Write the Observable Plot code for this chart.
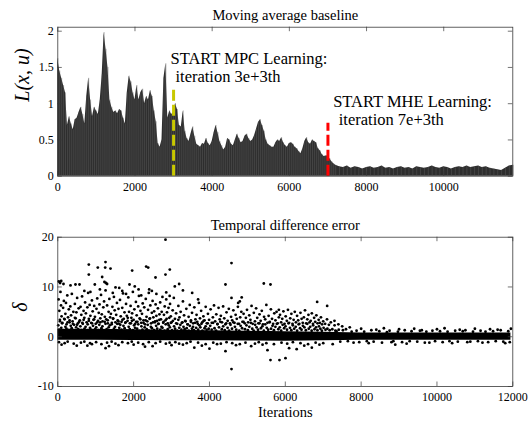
<!DOCTYPE html>
<html><head><meta charset="utf-8">
<script src="https://cdn.jsdelivr.net/npm/d3@7"></script>
<script src="https://cdn.jsdelivr.net/npm/@observablehq/plot@0.6"></script>
<style>body{margin:0;background:#fff}#chart{width:529px;height:422px;background:#fff}svg{display:block}</style>
</head><body><div id="chart"></div>
<script>
// ---------- DATA ----------
// Moving average baseline L(x,u): every 50 iterations from 0 to 7200 ...
const earlyStep = 50;
const baselineEarly = [
  1.62,1.45,1.35,1.25,1.15,0.70,0.82,0.72,0.64,0.78,
  0.80,0.88,0.95,0.85,0.72,1.10,1.35,1.05,0.82,0.95,
  0.90,0.85,1.05,1.40,1.98,1.75,1.50,1.05,0.95,0.88,
  0.90,0.86,0.92,0.90,0.80,0.72,1.15,1.38,1.30,1.15,
  1.05,1.25,1.05,1.15,1.20,1.00,1.10,1.05,1.18,1.10,
  0.90,0.75,0.45,0.40,0.50,1.35,1.55,0.80,0.90,0.85,
  0.88,1.00,0.92,0.70,0.68,0.90,0.62,0.52,0.48,0.58,
  0.68,0.55,0.44,0.42,0.40,0.45,0.44,0.52,0.45,0.42,
  0.48,0.60,0.70,0.60,0.48,0.42,0.36,0.40,0.52,0.50,
  0.44,0.42,0.50,0.58,0.52,0.46,0.48,0.55,0.58,0.52,
  0.48,0.50,0.56,0.65,0.74,0.78,0.70,0.62,0.50,0.44,
  0.42,0.40,0.40,0.46,0.50,0.48,0.53,0.46,0.42,0.40,
  0.45,0.46,0.44,0.40,0.38,0.34,0.31,0.38,0.48,0.53,
  0.46,0.44,0.50,0.48,0.46,0.38,0.35,0.30,0.27,0.28,
  0.28,0.24,0.20,0.17,0.15
];
// ... then every 100 iterations from 7300 to 11800
const lateStart = 7300, lateStep = 100;
const baselineLate = [
  0.13,0.12,0.14,0.11,0.13,0.12,0.10,
  0.12,0.13,0.11,0.12,0.14,0.11,0.12,0.10,0.12,0.13,
  0.11,0.12,0.10,0.13,0.12,0.11,0.12,0.14,0.12,0.11,
  0.13,0.12,0.10,0.12,0.13,0.12,0.14,0.12,0.13,0.14,
  0.12,0.13,0.11,0.10,0.09,0.08,0.11,0.14,0.15
];
const mpcStart = {x: 3000, top: 1.19};
const mheStart = {x: 7000, top: 0.73};
const annotations = [
  {x: 2920, y: 1.616, t: "START MPC Learning:"},
  {x: 3049, y: 1.368, t: "iteration 3e+3th"},
  {x: 7135, y: 1.021, t: "START MHE Learning:"},
  {x: 7280, y: 0.782, t: "iteration 7e+3th"}
];
const topXTicks = [0,2000,4000,6000,8000,10000];
const topYTicks = [0,0.5,1,1.5,2];

// Temporal difference error: solid core band [iteration, low, high]
const tdBand = [
  [0,-0.7,1.5],[1000,-0.7,1.5],[2000,-0.75,1.4],[3000,-0.8,1.3],[4000,-0.8,1.2],
  [5000,-0.85,1.1],[6000,-0.9,1.0],[7000,-0.8,0.9],[8000,-0.7,0.75],[10000,-0.7,0.75],[11950,-0.7,0.75]
];
// large outliers
const tdOutliers = [
  [26,11.1],[60,10.8],[90,11.2],[150,10.6],[335,10.3],[466,10.5],[572,10.5],[818,14.5],[818,12.5],
  [1055,13.9],[1258,15],[1250,13.9],[1390,13.7],[976,10.5],[1230,11.0],[1270,10.8],[1300,10.6],
  [1170,12.0],[1522,9.9],[1620,9.8],[1891,10.5],[2030,10.1],[2130,9.5],[1961,13.3],[2331,14.1],
  [2384,13.9],[2577,11.9],[2840,12.5],[2954,13.5],[2840,19.5],[2410,9.5],[2480,9.2],[2860,8.9],
  [3086,10.1],[3200,10.6],[3300,9.3],[3544,8.8],[3700,7.5],[700,9.2],[860,9.0],[1110,9.5],
  [1450,8.8],[1700,9.2],[1800,8.6],[2200,8.3],[2600,8.6],[2950,8.2],[4422,10.5],[4581,14.8],
  [5433,10.7],[5609,10.5],[4581,7.8],[4757,6.8],[4850,7.9],[4800,7.1],[6840,7.0],[7104,6.2],
  [5830,5.4],[7297,3.2]
];
// moderate positive errors
const tdMid = [
  [20,7.5],[40,5.2],[55,3.4],[70,9.0],[85,6.3],[100,4.1],[120,2.8],[140,5.8],[160,7.2],[180,3.5],
  [200,4.6],[215,6.8],[230,2.5],[250,8.3],[270,3.9],[290,5.5],[310,2.9],[330,6.1],[350,4.3],[370,8.6],
  [390,3.1],[410,5.0],[430,2.4],[450,6.6],[470,3.7],[490,4.9],[510,7.8],[530,2.7],[550,5.7],[580,3.3],
  [600,6.0],[620,4.4],[640,8.1],[660,2.6],[680,5.2],[700,3.8],[720,6.9],[740,4.7],[760,2.9],[780,5.9],
  [800,8.8],[820,3.6],[840,6.4],[860,4.2],[880,2.8],[900,7.3],[920,5.1],[940,3.4],[960,6.2],[980,4.0],
  [1000,2.6],[1020,5.6],[1040,7.7],[1060,3.2],[1080,4.8],[1100,6.5],[1120,2.9],[1140,8.4],[1160,4.5],[1180,3.1],
  [1200,5.9],[1220,7.1],[1240,4.0],[1260,9.3],[1280,3.5],[1300,6.3],[1320,2.7],[1340,5.0],[1360,7.6],[1380,3.9],
  [1400,4.6],[1420,2.5],[1440,6.0],[1460,3.7],[1480,8.0],[1500,5.3],[1520,2.9],[1540,4.4],[1560,6.8],[1580,3.3],
  [1600,5.6],[1620,2.6],[1640,7.4],[1660,4.1],[1680,3.0],[1700,5.8],[1720,8.7],[1740,3.6],[1760,4.9],[1780,2.8],
  [1800,6.6],[1820,4.2],[1840,3.2],[1860,7.9],[1880,5.0],[1900,2.7],[1920,6.2],[1940,3.8],[1960,4.7],[1980,9.0],
  [2000,3.4],[2020,5.5],[2040,2.6],[2060,7.0],[2080,4.3],[2100,3.0],[2120,6.1],[2140,8.2],[2160,3.7],[2180,5.2],
  [2200,2.8],[2220,4.6],[2240,6.7],[2260,3.3],[2280,5.9],[2300,2.5],[2320,7.6],[2340,4.0],[2360,3.1],[2380,5.4],
  [2400,8.8],[2420,3.6],[2440,6.3],[2460,2.7],[2480,4.8],[2500,7.2],[2520,3.9],[2540,5.1],[2560,2.9],[2580,6.5],
  [2600,4.2],[2620,3.2],[2640,5.7],[2660,2.6],[2680,4.5],[2700,6.9],[2720,3.5],[2740,5.0],[2760,8.0],[2780,2.8],
  [2800,4.4],[2820,6.1],[2840,3.3],[2860,7.5],[2880,4.9],[2900,2.7],[2920,5.8],[2940,3.8],[2960,6.6],[2980,4.1],
  [3000,2.9],[3030,5.3],[3060,7.8],[3090,3.6],[3120,4.7],[3150,2.6],[3180,6.2],[3210,3.9],[3240,5.0],[3270,2.8],
  [3300,7.1],[3330,4.3],[3360,3.2],[3390,5.6],[3420,2.5],[3450,4.0],[3480,6.4],[3510,3.0],[3540,4.8],[3570,2.7],
  [3600,5.9],[3630,3.5],[3660,4.4],[3690,2.6],[3720,6.8],[3750,3.7],[3780,5.2],[3810,2.9],[3840,4.1],[3870,3.3],
  [3900,6.0],[3930,2.7],[3960,4.6],[3990,3.4],
  [4030,5.5],[4060,2.8],[4090,3.9],[4120,6.3],[4150,3.1],[4180,4.5],[4210,2.6],[4240,5.8],[4270,3.5],[4300,4.2],
  [4330,2.9],[4360,6.1],[4390,3.7],[4420,2.5],[4450,4.9],[4480,3.2],[4510,5.6],[4540,2.7],[4570,4.0],[4600,3.3],
  [4630,5.3],[4660,2.8],[4690,4.4],[4720,3.6],[4750,6.0],[4780,2.6],[4810,3.9],[4840,5.0],[4870,3.0],[4900,4.6],
  [4930,2.7],[4960,3.8],[4990,5.4],
  [5020,2.9],[5050,4.3],[5080,3.4],[5110,6.2],[5140,2.6],[5170,4.8],[5200,3.1],[5230,5.7],[5260,3.8],[5290,2.7],
  [5320,4.5],[5350,3.2],[5380,5.2],[5410,2.5],[5440,4.0],[5470,3.5],[5500,6.4],[5530,2.8],[5560,4.2],[5590,3.0],
  [5620,5.5],[5650,3.6],[5680,2.6],[5710,4.7],[5740,3.3],[5770,5.0],[5800,2.7],[5830,3.9],[5860,4.4],[5890,2.9],
  [5920,3.6],[5950,5.1],[5980,2.6],
  [6010,4.1],[6040,3.2],[6070,5.4],[6100,2.8],[6130,3.7],[6160,4.6],[6190,2.6],[6220,3.4],[6250,5.0],[6280,2.9],
  [6310,4.2],[6340,3.3],[6370,2.6],[6400,4.8],[6430,3.6],[6460,2.8],[6490,3.9],[6520,5.3],[6550,2.7],[6580,3.5],
  [6610,4.4],[6640,2.9],[6670,3.2],[6700,4.7],[6730,2.6],[6760,3.8],[6790,3.0],[6820,4.3],[6850,2.7],[6880,3.4],
  [6910,2.8],[6940,3.9],[6970,2.5],[7000,3.1],[7050,2.6],[7100,3.5],[7150,2.4],[7200,2.9],[7300,2.3],[7400,2.5],[7500,2.1]
];
// small positive errors just above the core
const tdNear = [
  [12,2.3],[37,1.4],[58,3.1],[91,1.8],[113,2.7],[146,1.2],[169,3.6],[201,2.0],[228,1.6],[257,2.9],
  [288,1.3],[311,3.3],[342,2.2],[366,1.7],[399,2.6],[424,1.1],[452,3.8],[484,1.9],[509,2.4],[538,1.5],
  [563,3.0],[596,2.1],[620,1.3],[647,2.8],[681,3.4],[704,1.6],[733,2.0],[765,1.2],[789,2.5],[818,3.2],
  [849,1.8],[873,1.4],[902,2.7],[929,2.2],[958,3.5],[986,1.5],[1013,1.9],[1039,2.9],[1070,1.3],[1094,2.4],
  [1121,3.7],[1150,1.7],[1177,2.1],[1205,1.2],[1236,3.0],[1258,2.6],[1289,1.5],[1317,3.3],[1342,1.9],[1371,2.3],
  [1400,1.1],[1425,2.8],[1457,3.6],[1481,1.6],[1510,2.0],[1539,1.3],[1566,2.6],[1597,3.1],[1620,1.8],[1648,2.4],
  [1679,1.4],[1705,3.4],[1731,2.2],[1762,1.7],[1789,2.9],[1815,1.2],[1846,3.8],[1870,2.0],[1899,1.5],[1927,2.7],
  [1956,3.2],[1980,1.3],[2011,2.3],[2037,1.8],[2068,3.0],[2092,1.6],[2121,2.5],[2150,1.1],[2176,3.5],[2205,2.1],
  [2233,1.4],[2260,2.8],[2291,1.9],[2315,3.3],[2344,1.5],[2372,2.4],[2399,1.2],[2430,3.7],[2454,2.0],[2483,1.7],
  [2511,2.9],[2540,1.3],[2565,3.1],[2594,2.2],[2622,1.6],[2649,2.6],[2678,3.4],[2703,1.4],[2734,2.0],[2760,1.8],
  [2789,3.0],[2815,1.2],[2846,2.5],[2870,3.6],[2899,1.5],[2927,2.3],[2955,1.9],[2981,2.8],[3012,1.3],[3036,3.2],
  [3067,2.1],[3093,1.6],[3122,2.7],[3148,1.2],[3179,3.4],[3203,1.8],[3232,2.4],[3260,1.4],[3288,2.9],[3315,2.0],
  [3344,1.5],[3370,3.1],[3399,1.7],[3426,2.5],[3455,1.2],[3481,2.2],[3512,3.3],[3537,1.6],[3566,2.0],[3592,1.3],
  [3621,2.8],[3648,1.8],[3677,3.0],[3702,1.4],[3733,2.3],[3759,1.9],[3788,2.6],[3814,1.2],[3845,3.2],[3870,1.7],
  [3899,2.1],[3925,1.4],[3954,2.7],[3981,1.6],
  [4020,2.2],[4058,1.4],[4097,2.8],[4133,1.7],[4175,1.2],[4210,2.5],[4251,1.9],[4287,3.0],[4326,1.5],[4362,2.1],
  [4403,1.3],[4440,2.7],[4478,1.8],[4517,1.2],[4555,2.4],[4594,1.6],[4630,2.9],[4671,2.0],[4707,1.4],[4746,2.6],
  [4785,1.2],[4822,2.2],[4861,1.7],[4898,3.0],[4937,1.5],[4975,2.3],[5014,1.3],[5051,2.0],[5090,2.8],[5128,1.6],
  [5166,1.2],[5205,2.4],[5242,1.9],[5281,1.4],[5318,2.7],[5357,1.7],[5395,2.1],[5434,1.2],[5471,2.5],[5510,1.8],
  [5548,1.4],[5587,2.9],[5624,1.6],[5663,2.2],[5700,1.3],[5739,2.0],[5777,2.6],[5816,1.5],[5853,1.9],[5892,1.2],
  [5930,2.4],[5969,1.7],[6006,2.1],[6045,1.4],[6083,2.7],[6122,1.8],[6159,1.3],[6198,2.3],[6236,1.6],[6275,2.0],
  [6312,1.2],[6351,2.5],[6389,1.7],[6428,1.4],[6465,2.2],[6504,1.9],[6542,1.3],[6581,2.6],[6618,1.6],[6657,2.0],
  [6695,1.2],[6734,2.3],[6771,1.5],[6810,1.9],[6848,1.3],[6887,2.1],[6925,1.6],[6964,1.2],[7010,1.8],[7060,1.4],
  [7110,1.6],[7170,1.3],[7240,1.5],[7320,1.2],[7410,1.4]
];
// negative errors
const tdNeg = [
  [100,-1.6],[500,-1.8],[780,-1.8],[900,-1.5],[1260,-2.3],[1350,-1.9],[1600,-1.7],[2000,-1.6],[2300,-2.0],
  [2500,-1.9],[3000,-1.7],[3300,-1.6],[3600,-2.2],[3800,-1.8],[4000,-2.4],[4200,-1.5],[4422,-2.9],
  [4581,-6.5],[4700,-1.7],[5100,-1.9],[5400,-1.6],[5530,-2.7],[5609,-4.7],[5846,-4.7],[6005,-4.3],
  [6100,-2.3],[6300,-2.5],[6500,-1.8],[6700,-2.2],[6900,-1.6],
  [30,-1.1],[180,-1.3],[260,-1.0],[420,-1.4],[610,-1.2],[700,-1.0],[850,-1.3],[1010,-1.1],[1150,-1.5],
  [1300,-1.2],[1420,-1.0],[1520,-1.4],[1700,-1.1],[1850,-1.3],[1950,-1.0],[2120,-1.2],[2250,-1.5],[2400,-1.1],
  [2580,-1.3],[2700,-1.0],[2850,-1.4],[2950,-1.2],[3100,-1.1],[3200,-1.4],[3400,-1.3],[3500,-1.0],[3700,-1.2],
  [3900,-1.5],[4100,-1.2],[4300,-1.4],[4450,-1.1],[4600,-1.3],[4800,-1.5],[4950,-1.2],[5200,-1.4],[5300,-1.1],
  [5500,-1.3],[5700,-1.5],[5900,-1.2],[6050,-1.4],[6200,-1.1],[6400,-1.3],[6600,-1.5],[6800,-1.2],[7000,-1.3]
];
// fuzzy edge of the converged band
const tdEdge = [
  [7250,-1.5],[7600,1.5],[7700,1.9],[7800,-1.2],[8000,1.6],[8200,-1.3],[8400,1.4],[8600,1.7],[8800,-1.1],
  [8900,-1.6],[9000,1.5],[9200,-1.4],[9400,1.6],[9600,1.3],[9800,-1.2],[10000,1.5],[10200,1.7],[10400,-1.3],
  [10600,1.4],[10800,-1.1],[11000,1.6],[11200,-1.2],[11400,1.5],[11600,1.4],[11800,-1.3],[11950,1.6],
  [7350,1.1],[7450,-1.0],[7520,1.3],[7650,-0.9],[7750,1.0],[7880,1.2],[7950,-1.1],[8080,1.0],[8150,-0.9],
  [8270,1.3],[8330,-1.0],[8480,1.1],[8550,-1.2],[8680,0.9],[8750,1.2],[8850,-0.9],[8970,1.0],[9080,-1.1],
  [9150,1.3],[9280,-0.9],[9330,1.1],[9480,-1.0],[9550,1.2],[9680,-1.2],[9720,1.0],[9880,1.2],[9950,-0.9],
  [10080,1.1],[10150,-1.1],[10280,1.0],[10330,-0.9],[10480,1.2],[10550,-1.0],[10680,1.1],[10750,1.3],
  [10880,-1.0],[10950,1.0],[11080,-0.9],[11150,1.2],[11280,1.0],[11350,-1.1],[11480,1.1],[11550,-0.9],
  [11680,1.3],[11750,-1.0],[11880,1.1],[11920,-1.1]
];
const botXTicks = [0,2000,4000,6000,8000,10000,12000];
const botYTicks = [-10,0,10,20];

// ---------- DRAW ----------
const W = 529;
const axisColor = "#3a3a3a";
const font = "'Liberation Serif', 'Times New Roman', serif";
const baseline = [
  ...baselineEarly.map((v, i) => ({x: i * earlyStep, y: v})),
  ...baselineLate.map((v, i) => ({x: lateStart + i * lateStep, y: v}))
];

function insideTicks(xt, yt, plotH, plotW) {
  return [
    Plot.tickX(xt, {x: d => d, insetTop: plotH - 4.5, stroke: axisColor, strokeWidth: 0.7}),
    Plot.tickX(xt, {x: d => d, insetBottom: plotH - 4.5, stroke: axisColor, strokeWidth: 0.7}),
    Plot.tickY(yt, {y: d => d, insetRight: plotW - 4.5, stroke: axisColor, strokeWidth: 0.7}),
    Plot.tickY(yt, {y: d => d, insetLeft: plotW - 4.5, stroke: axisColor, strokeWidth: 0.7})
  ];
}

const mL = 57.3, mR = 16.7;
const plotW = W - mL - mR;

// top
const tH = 200, tT = 26.7, tB = 24.3;
const topChart = Plot.plot({
  width: W, height: tH,
  marginLeft: mL, marginRight: mR, marginTop: tT, marginBottom: tB,
  style: {fontFamily: font, fontSize: "12px", background: "white", color: "black", overflow: "visible"},
  x: {domain: [0, 11790]},
  y: {domain: [0, 2.055]},
  marks: [
    Plot.areaY(baseline, {x: "x", y: "y", fill: "#2e2e2e"}),
    Plot.ruleX(baseline, {x: "x", y1: 0, y2: "y", stroke: "#5a5a5a", strokeWidth: 0.5}),
    Plot.ruleX([mpcStart], {x: "x", y1: 0, y2: "top", stroke: "#c8c800", strokeWidth: 3, strokeDasharray: "11,4"}),
    Plot.ruleX([mheStart], {x: "x", y1: 0, y2: "top", stroke: "#ff0000", strokeWidth: 3, strokeDasharray: "11,4"}),
    Plot.text(annotations, {x: "x", y: "y", text: "t", textAnchor: "start", lineAnchor: "middle", fontSize: 16.5, fill: "black"}),
    Plot.frame({stroke: axisColor, strokeWidth: 0.8}),
    ...insideTicks(topXTicks, topYTicks, tH - tT - tB, plotW),
    Plot.axisX(topXTicks, {tickSize: 0, tickPadding: 6, tickFormat: d => String(d), label: null}),
    Plot.axisY(topYTicks, {tickSize: 0, tickPadding: 4, tickFormat: d => String(d), label: null}),
    Plot.text(["Moving average baseline"], {frameAnchor: "top", dy: -12, lineAnchor: "middle", fontSize: 14.5}),
    Plot.text(["L(x, u)"], {frameAnchor: "left", dx: -35, rotate: -90, lineAnchor: "middle", fontSize: 20, fontStyle: "italic"})
  ]
});

// bottom
const bH = 222, bT = 36.7, bB = 36;
const dot = data => Plot.dot(data, {x: d => d[0], y: d => d[1], r: 1.4, fill: "black"});
const bottomChart = Plot.plot({
  width: W, height: bH,
  marginLeft: mL, marginRight: mR, marginTop: bT, marginBottom: bB,
  style: {fontFamily: font, fontSize: "12px", background: "white", color: "black", overflow: "visible"},
  x: {domain: [0, 12000]},
  y: {domain: [-10, 20]},
  marks: [
    Plot.areaY(tdBand, {x: d => d[0], y1: d => d[1], y2: d => d[2], fill: "black", curve: "linear"}),
    dot(tdNear), dot(tdMid), dot(tdOutliers), dot(tdNeg), dot(tdEdge),
    Plot.frame({stroke: axisColor, strokeWidth: 0.8}),
    ...insideTicks(botXTicks, botYTicks, bH - bT - bB, plotW),
    Plot.axisX(botXTicks, {tickSize: 0, tickPadding: 6, tickFormat: d => String(d), label: null}),
    Plot.axisY(botYTicks, {tickSize: 0, tickPadding: 4, tickFormat: d => String(d), label: null}),
    Plot.text(["Temporal difference error"], {frameAnchor: "top", dy: -12, lineAnchor: "middle", fontSize: 14.5}),
    Plot.text(["Iterations"], {frameAnchor: "bottom", dy: 26, lineAnchor: "middle", fontSize: 14.5}),
    Plot.text(["δ"], {frameAnchor: "left", dx: -37, dy: 0, rotate: -90, lineAnchor: "middle", fontSize: 20, fontStyle: "italic"})
  ]
});

const chart = document.getElementById("chart");
chart.appendChild(topChart);
chart.appendChild(bottomChart);
</script>
</body></html>
